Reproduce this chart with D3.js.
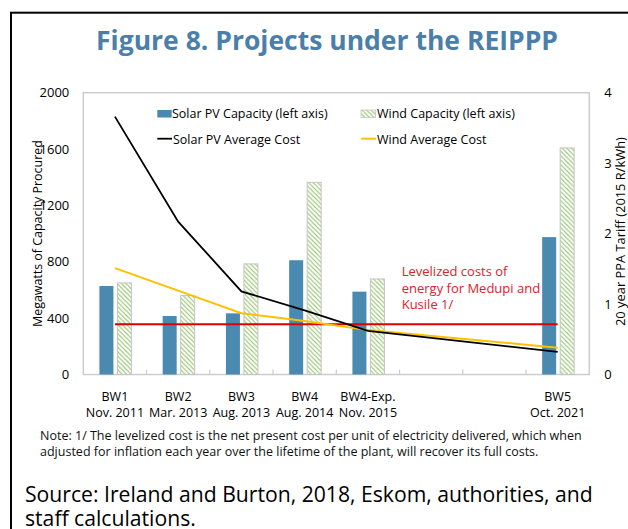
<!DOCTYPE html>
<html>
<head>
<meta charset="utf-8">
<script src="https://cdn.jsdelivr.net/npm/d3@7"></script>
<style>
  body { margin: 0; background: #fff; }
  svg text { font-family: "Open Sans", "Noto Sans", sans-serif; }
</style>
</head>
<body>
<div id="content"></div>
<script>
// chart data
var categories = ['BW1', 'BW2', 'BW3', 'BW4', 'BW4-Exp.', '', '', 'BW5'];
var roundDates = ['Nov. 2011', 'Mar. 2013', 'Aug. 2013', 'Aug. 2014', 'Nov. 2015', '', '', 'Oct. 2021'];
var solarCapacity = [628, 415, 434, 811, 588, null, null, 975];
var windCapacity = [650, 560, 785, 1364, 678, null, null, 1608];
var solarCost = [3.66, 2.17, 1.18, 0.91, 0.62, null, null, 0.32];
var windCost = [1.51, 1.19, 0.87, 0.76, 0.63, null, null, 0.38];
var levelizedCost = 0.715;
var leftTicks = [0, 400, 800, 1200, 1600, 2000];
var rightTicks = [0, 1, 2, 3, 4];

// layout
var svg_width = 628;
var svg_height = 529;
var plot = {left: 83.3, right: 589.3, top: 92.7, bottom: 374.5};
var solarBlue = '#4a89b0';
var hatchGreen = '#8fc166';
var gold = '#ffc000';
var red = '#e00000';
var titleBlue = '#4a7fac';

var svg = d3.select('#content').append('svg')
  .attr('width', svg_width).attr('height', svg_height);

// scales fit text to a measured width from the reference
function fitWidth(sel, target) {
  sel.each(function() {
    var fs = parseFloat(d3.select(this).style('font-size'));
    var w = this.getComputedTextLength();
    d3.select(this).style('font-size', (fs * target / w) + 'px');
  });
}

var defs = svg.append('defs');
var pat = defs.append('pattern')
  .attr('id', 'hatch')
  .attr('patternUnits', 'userSpaceOnUse')
  .attr('width', 4.5).attr('height', 4.5);
pat.append('rect').attr('width', 4.5).attr('height', 4.5).attr('fill', '#fff');
pat.append('path')
  .attr('d', 'M-1,-1L5.5,5.5M-1,3.5L1,5.5M3.5,-1L5.5,1')
  .attr('stroke', hatchGreen).attr('stroke-width', 1.1);

// outer frame
svg.append('rect')
  .attr('x', 11).attr('y', 12.7)
  .attr('width', 700).attr('height', 600)
  .attr('fill', 'none').attr('stroke', '#000').attr('stroke-width', 2);

// title
var title = svg.append('text')
  .attr('x', 327).attr('y', 49.5)
  .attr('text-anchor', 'middle')
  .style('font-size', '26px').style('font-weight', 700)
  .style('fill', titleBlue)
  .text('Figure 8. Projects under the REIPPP');
fitWidth(title, 462);

// scales
var x = d3.scaleBand().domain(d3.range(categories.length)).range([plot.left, plot.right]);
var yLeft = d3.scaleLinear().domain([0, 2000]).range([plot.bottom, plot.top]);
var yRight = d3.scaleLinear().domain([0, 4]).range([plot.bottom, plot.top]);
function cx(i) { return x(i) + x.bandwidth() / 2; }

// plot frame
svg.append('rect')
  .attr('x', plot.left).attr('y', plot.top)
  .attr('width', plot.right - plot.left).attr('height', plot.bottom - plot.top)
  .attr('fill', 'none').attr('stroke', '#cccccc').attr('stroke-width', 1.5);

// category ticks (pointing inward)
var xAxis = svg.append('g')
  .attr('transform', 'translate(0,' + plot.bottom + ')')
  .call(d3.axisTop(x).tickValues([]).tickSizeOuter(0));
xAxis.select('.domain').remove();
xAxis.selectAll('.band-tick')
  .data(d3.range(1, categories.length))
  .enter().append('line')
  .attr('x1', function(i) { return x(i); })
  .attr('x2', function(i) { return x(i); })
  .attr('y1', 0).attr('y2', -5)
  .attr('stroke', '#cccccc').attr('stroke-width', 1.2);

// left axis labels
var leftAxis = svg.append('g')
  .attr('transform', 'translate(' + plot.left + ',0)')
  .call(d3.axisLeft(yLeft).tickValues(leftTicks).tickSize(0).tickPadding(14).tickFormat(d3.format('d')));
leftAxis.select('.domain').remove();
leftAxis.selectAll('text').style('font-size', '13px').style('fill', '#000')
  .style('font-family', '"Open Sans", sans-serif');

// right axis labels
var rightAxis = svg.append('g')
  .attr('transform', 'translate(' + plot.right + ',0)')
  .call(d3.axisRight(yRight).tickValues(rightTicks).tickSize(0).tickPadding(15).tickFormat(d3.format('d')));
rightAxis.select('.domain').remove();
rightAxis.selectAll('text').style('font-size', '13px').style('fill', '#000')
  .style('font-family', '"Open Sans", sans-serif');

// axis titles
var lt = svg.append('text')
  .attr('transform', 'translate(41.5,' + ((plot.top + plot.bottom) / 2) + ') rotate(-90)')
  .attr('text-anchor', 'middle')
  .style('font-size', '12.5px')
  .text('Megawatts of Capacity Procured');
fitWidth(lt, 187);

var rt = svg.append('text')
  .attr('transform', 'translate(624.5,' + ((plot.top + plot.bottom) / 2 - 2) + ') rotate(-90)')
  .attr('text-anchor', 'middle')
  .style('font-size', '12.5px')
  .text('20 year PPA Tariff (2015 R/kWh)');
fitWidth(rt, 189);

// bars
var idx = d3.range(categories.length);
svg.selectAll('.solar')
  .data(idx.filter(function(i) { return solarCapacity[i] != null; }))
  .enter().append('rect')
  .attr('class', 'solar')
  .attr('x', function(i) { return cx(i) - 15.5; })
  .attr('width', 14)
  .attr('y', function(i) { return yLeft(solarCapacity[i]); })
  .attr('height', function(i) { return plot.bottom - yLeft(solarCapacity[i]); })
  .attr('fill', solarBlue);

svg.selectAll('.wind')
  .data(idx.filter(function(i) { return windCapacity[i] != null; }))
  .enter().append('rect')
  .attr('class', 'wind')
  .attr('x', function(i) { return cx(i) + 2.5; })
  .attr('width', 14)
  .attr('y', function(i) { return yLeft(windCapacity[i]); })
  .attr('height', function(i) { return plot.bottom - yLeft(windCapacity[i]); })
  .attr('fill', 'url(#hatch)')
  .attr('stroke', '#c4c4c4').attr('stroke-width', 1);

// levelized cost line
svg.append('line')
  .attr('x1', cx(0)).attr('x2', cx(categories.length - 1))
  .attr('y1', yRight(levelizedCost)).attr('y2', yRight(levelizedCost))
  .attr('stroke', red).attr('stroke-width', 2);

// cost lines
var line = d3.line()
  .x(function(d) { return cx(d.i); })
  .y(function(d) { return yRight(d.v); });
function pts(arr) {
  return arr.map(function(v, i) { return {i: i, v: v}; }).filter(function(d) { return d.v != null; });
}
svg.append('path').datum(pts(windCost))
  .attr('d', line).attr('fill', 'none')
  .attr('stroke', gold).attr('stroke-width', 2);
svg.append('path').datum(pts(solarCost))
  .attr('d', line).attr('fill', 'none')
  .attr('stroke', '#000').attr('stroke-width', 1.8);

// red annotation
var note = svg.append('text')
  .attr('x', 401.7).attr('y', 276)
  .style('font-size', '13px').style('fill', '#e0202a');
['Levelized costs of', 'energy for Medupi and', 'Kusile 1/'].forEach(function(t, k) {
  note.append('tspan').attr('x', 401.7).attr('dy', k === 0 ? 0 : 16.7).text(t);
});

// category labels
var cl = svg.selectAll('.catlabel')
  .data(idx)
  .enter().append('text')
  .attr('class', 'catlabel')
  .attr('text-anchor', 'middle')
  .style('font-size', '12.5px');
cl.append('tspan').attr('x', cx).attr('y', 400.5).text(function(i) { return categories[i]; });
cl.append('tspan').attr('x', cx).attr('y', 416.5).text(function(i) { return roundDates[i]; });

// legend
var legend = svg.append('g').style('font-size', '12.5px');
legend.append('rect').attr('x', 157.3).attr('y', 110).attr('width', 14.4).attr('height', 7.5).attr('fill', solarBlue);
legend.append('text').attr('x', 172).attr('y', 118).text('Solar PV Capacity (left axis)');
legend.append('rect').attr('x', 361).attr('y', 110).attr('width', 14.4).attr('height', 7.5)
  .attr('fill', 'url(#hatch)').attr('stroke', '#c4c4c4').attr('stroke-width', 0.8);
legend.append('text').attr('x', 377).attr('y', 118).text('Wind Capacity (left axis)');
legend.append('line').attr('x1', 157.3).attr('x2', 172).attr('y1', 138.7).attr('y2', 138.7)
  .attr('stroke', '#000').attr('stroke-width', 1.8);
legend.append('text').attr('x', 173).attr('y', 143.5).text('Solar PV Average Cost');
legend.append('line').attr('x1', 361).attr('x2', 376).attr('y1', 138.7).attr('y2', 138.7)
  .attr('stroke', gold).attr('stroke-width', 2);
legend.append('text').attr('x', 377).attr('y', 143.5).text('Wind Average Cost');

// footnote
var n1 = svg.append('text').attr('x', 40).attr('y', 440).style('font-size', '12px').style('fill', '#111')
  .text('Note: 1/ The levelized cost is the net present cost per unit of electricity delivered, which when');
fitWidth(n1, 542);
var n2 = svg.append('text').attr('x', 40).attr('y', 455.5).style('font-size', n1.style('font-size')).style('fill', '#111')
  .text('adjusted for inflation each year over the lifetime of the plant, will recover its full costs.');

// source
var s1 = svg.append('text').attr('x', 25).attr('y', 502).style('font-size', '26px').style('fill', '#000')
  .text('Source: Ireland and Burton, 2018, Eskom, authorities, and');
fitWidth(s1, 568);
svg.append('text').attr('x', 25).attr('y', 525.5).style('font-size', s1.style('font-size')).style('fill', '#000')
  .text('staff calculations.');
</script>
</body>
</html>
